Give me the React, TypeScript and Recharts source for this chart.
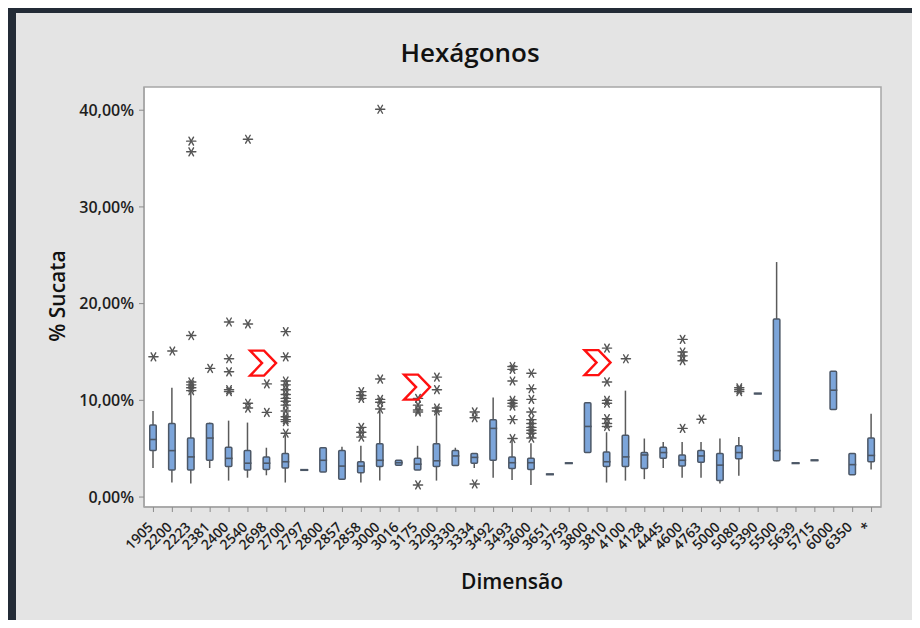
import React from 'react';
import {
  ComposedChart,
  Bar,
  Scatter,
  XAxis,
  YAxis,
  ReferenceArea,
  ReferenceDot,
  CartesianGrid,
} from 'recharts';

// ---------- data ----------
const categories = [
  '1905', '2200', '2223', '2381', '2400', '2540', '2698', '2700', '2797', '2800',
  '2857', '2858', '3000', '3016', '3175', '3200', '3330', '3334', '3492', '3493',
  '3600', '3651', '3759', '3800', '3810', '4100', '4128', '4445', '4600', '4763',
  '5000', '5080', '5390', '5500', '5639', '5715', '6000', '6350', '*',
];

const q1 = [
  4.8, 2.8, 2.8, 3.8, 3.15, 2.8, 2.85, 3.0, 2.8, 2.6,
  1.85, 2.5, 3.15, 3.3, 2.8, 3.15, 3.25, 3.5, 3.8, 2.95,
  2.85, 2.35, 3.5, 4.6, 3.15, 3.15, 2.95, 4.0, 3.2, 3.6,
  1.7, 3.95, 10.7, 3.75, 3.5, 3.8, 9.05, 2.3, 3.65,
];
const median = [
  5.95, 4.8, 4.15, 6.1, 4.0, 3.5, 3.5, 3.65, 2.8, 3.8,
  3.2, 3.2, 3.8, 3.55, 3.4, 3.75, 4.25, 4.1, 7.1, 3.55,
  3.55, 2.35, 3.5, 7.3, 3.65, 4.15, 4.35, 4.6, 3.8, 4.25,
  3.3, 4.6, 10.7, 4.8, 3.5, 3.8, 11.05, 3.35, 4.3,
];
const q3 = [
  7.45, 7.6, 6.1, 7.6, 5.15, 4.8, 4.15, 4.5, 2.8, 5.1,
  4.8, 3.65, 5.5, 3.8, 4.0, 5.5, 4.8, 4.5, 8.0, 4.15,
  4.0, 2.35, 3.5, 9.75, 4.65, 6.4, 4.6, 5.15, 4.35, 4.8,
  4.5, 5.3, 10.7, 18.4, 3.5, 3.8, 13.0, 4.5, 6.1,
];
const whiskerLow = [
  3.0, 1.5, 1.4, 3.0, 1.7, 2.0, 2.25, 1.5, 2.8, 2.6,
  1.85, 1.5, 1.7, 3.3, 2.8, 1.7, 3.25, 3.0, 2.0, 1.75,
  1.25, 2.35, 3.5, 4.6, 1.5, 1.7, 1.85, 3.0, 2.0, 2.0,
  1.4, 2.2, 10.7, 3.7, 3.5, 3.8, 9.05, 2.3, 2.85,
];
const whiskerHigh = [
  8.9, 11.3, 10.9, 7.7, 7.9, 7.7, 5.1, 6.4, 2.8, 5.1,
  5.2, 5.3, 9.0, 3.8, 5.3, 9.0, 5.1, 4.5, 10.3, 5.95,
  5.55, 2.35, 3.5, 9.75, 6.7, 11.0, 6.05, 5.7, 5.7, 5.7,
  6.05, 6.2, 10.7, 24.3, 3.5, 3.8, 13.0, 4.5, 8.6,
];
const outliers: number[][] = [
  [14.5],
  [15.1],
  [36.8, 35.7, 16.7, 11.9, 11.6, 11.3, 11.0],
  [13.3],
  [18.1, 14.3, 12.95, 11.1, 10.9],
  [37.0, 17.9, 9.7, 9.2],
  [11.7, 8.75],
  [17.1, 14.5, 12.0, 11.6, 11.1, 10.6, 10.2, 9.9, 9.5, 8.9, 8.3, 8.0, 7.8, 6.6],
  [],
  [],
  [],
  [10.9, 10.5, 10.2, 7.2, 6.7, 6.2],
  [40.1, 12.2, 10.1, 9.8, 9.1],
  [],
  [10.2, 9.5, 9.0, 8.8, 1.25],
  [12.4, 11.1, 9.2, 8.9],
  [],
  [8.8, 8.2, 1.35],
  [],
  [13.5, 13.2, 12.0, 10.0, 9.7, 9.4, 8.0, 6.05],
  [12.8, 11.2, 10.1, 8.8, 8.0, 7.6, 7.2, 6.9, 6.6, 6.1],
  [],
  [],
  [],
  [15.4, 11.9, 10.0, 9.7, 8.1, 7.6, 7.3],
  [14.3],
  [],
  [],
  [16.3, 15.0, 14.6, 14.1, 7.1],
  [8.05],
  [],
  [11.3, 11.1, 10.9],
  [],
  [],
  [],
  [],
  [],
  [],
  [],
];

// red chevron marks: position on the category index axis and value
const markX = [5.8, 13.95, 23.5];
const markY = [13.85, 11.37, 13.9];

const yTicks = [0, 10, 20, 30, 40];
const yDomain = [-1.03, 42.4];

// ---------- derived tables ----------
const data = categories.map((cat, i) => ({
  cat,
  i,
  box: [q1[i], q3[i]],
  whisker: [whiskerLow[i], whiskerHigh[i]],
}));
const medianPoints = categories.map((_, i) => ({ i, v: median[i] }));
const outlierPoints = outliers.flatMap((arr, i) => arr.map((v) => ({ i, v })));
const marks = markX.map((x, k) => ({ x, y: markY[k] }));

// ---------- styles ----------
const FONT = '"Open Sans", "Noto Sans", sans-serif';
const boxFill = '#7CA5DA';
const boxStroke = '#4C5766';
const whiskerColor = '#5A5A5A';
const outlierColor = '#555555';
const frameColor = '#A6A6A6';

const BoxShape = (p: any) => {
  const { x, y, width, height } = p;
  if (!(height > 1.2)) {
    const yy = y + (height || 0) / 2;
    return <line x1={x} x2={x + width} y1={yy} y2={yy} stroke={boxStroke} strokeWidth={2.2} />;
  }
  return (
    <rect
      x={x + 0.75}
      y={y}
      width={width - 1.5}
      height={height}
      fill={boxFill}
      stroke={boxStroke}
      strokeWidth={1.5}
      rx={1}
    />
  );
};

const WhiskerShape = (p: any) => {
  const { x, y, width, height } = p;
  if (!(height > 0)) return <g />;
  const cx = x + width / 2;
  return <line x1={cx} x2={cx} y1={y} y2={y + height} stroke={whiskerColor} strokeWidth={1.5} />;
};

const MedianShape = (p: any) => {
  const { cx, cy } = p;
  if (cx == null || cy == null || isNaN(cx) || isNaN(cy)) return <g />;
  return <line x1={cx - 3.6} x2={cx + 3.6} y1={cy} y2={cy} stroke={boxStroke} strokeWidth={1.6} />;
};

const AsteriskShape = (p: any) => {
  const { cx, cy } = p;
  if (cx == null || cy == null || isNaN(cx) || isNaN(cy)) return <g />;
  const r = 4.6;
  const dx = r * 0.5;
  const dy = r * 0.866;
  return (
    <g stroke={outlierColor} strokeWidth={1.4} strokeLinecap="round">
      <line x1={cx - r} x2={cx + r} y1={cy} y2={cy} />
      <line x1={cx - dx} x2={cx + dx} y1={cy - dy} y2={cy + dy} />
      <line x1={cx + dx} x2={cx - dx} y1={cy - dy} y2={cy + dy} />
    </g>
  );
};

const ChevronShape = (p: any) => {
  const { cx, cy } = p;
  if (cx == null || cy == null) return <g />;
  const pts = [
    [-13, -12.5],
    [1, -12.5],
    [13, 0],
    [1, 12.5],
    [-13, 12.5],
    [-1, 0],
  ]
    .map(([a, b]) => `${cx + a},${cy + b}`)
    .join(' ');
  return <polygon points={pts} fill="none" stroke="#FF1010" strokeWidth={2.4} strokeLinejoin="miter" />;
};

const XTick = (p: any) => {
  const { x, y, payload } = p;
  const ax = x + 0.5;
  const ay = y + 14;
  return (
    <text
      x={ax}
      y={ay}
      transform={`rotate(-45, ${ax}, ${ay})`}
      textAnchor="end"
      fontFamily={FONT}
      fontWeight={600}
      fontSize={14}
      fill="#1E1E1E"
    >
      {payload.value}
    </text>
  );
};

const fmtPct = (v: number) => v.toFixed(2).replace('.', ',') + '%';

export default function App() {
  return (
    <div style={{ position: 'relative', width: 920, height: 628, margin: -8, overflow: 'hidden', background: '#fff' }}>
      <div style={{ position: 'absolute', left: 8, top: 5, width: 912, height: 623, background: '#232B36' }} />
      <div style={{ position: 'absolute', left: 16, top: 13, width: 904, height: 610, background: '#E4E4E4' }} />
      <div style={{ position: 'absolute', left: 0, top: 0 }}>
        <ComposedChart
          width={920}
          height={628}
          data={data}
          margin={{ top: 87, right: 39, left: 74, bottom: 61 }}
        >
          <CartesianGrid horizontal={false} vertical={false} fill="#FFFFFF" />
          <XAxis
            dataKey="cat"
            type="category"
            interval={0}
            height={60}
            tick={<XTick />}
            tickSize={5}
            tickLine={{ stroke: '#8C8C8C' }}
            axisLine={{ stroke: frameColor, strokeWidth: 1.5 }}
          />
          <XAxis xAxisId="w" dataKey="cat" type="category" hide />
          <XAxis
            xAxisId="num"
            dataKey="i"
            type="number"
            domain={[-0.5, 38.5]}
            allowDataOverflow
            hide
          />
          <YAxis
            type="number"
            domain={yDomain}
            allowDataOverflow
            ticks={yTicks}
            tickFormatter={fmtPct}
            width={70}
            tickSize={5}
            tickMargin={5}
            tickLine={{ stroke: '#8C8C8C' }}
            axisLine={{ stroke: frameColor, strokeWidth: 1.5 }}
            tick={{ fontFamily: FONT, fontWeight: 600, fontSize: 16, fill: '#1E1E1E' }}
          />
          <ReferenceArea
            y1={yDomain[0]}
            y2={yDomain[1]}
            fill="none"
            stroke={frameColor}
            strokeWidth={1.5}
            ifOverflow="visible"
          />
          <Bar
            xAxisId="w"
            dataKey="whisker"
            barSize={8}
            shape={<WhiskerShape />}
            isAnimationActive={false}
          />
          <Bar
            dataKey="box"
            barSize={8}
            shape={<BoxShape />}
            isAnimationActive={false}
          />
          <Scatter
            xAxisId="num"
            data={medianPoints}
            dataKey="v"
            shape={<MedianShape />}
            isAnimationActive={false}
          />
          <Scatter
            xAxisId="num"
            data={outlierPoints}
            dataKey="v"
            shape={<AsteriskShape />}
            isAnimationActive={false}
          />
          {marks.map((m, k) => (
            <ReferenceDot
              key={k}
              xAxisId="num"
              x={m.x}
              y={m.y}
              shape={<ChevronShape />}
              ifOverflow="visible"
            />
          ))}
        </ComposedChart>
      </div>
      <svg
        width={920}
        height={628}
        style={{ position: 'absolute', left: 0, top: 0, pointerEvents: 'none' }}
      >
        <text x={470} y={62} textAnchor="middle" fontFamily={FONT} fontWeight={600} fontSize={26} fill="#111">
          Hexágonos
        </text>
        <text
          x={65}
          y={296}
          transform="rotate(-90, 65, 296)"
          textAnchor="middle"
          fontFamily={FONT}
          fontWeight={600}
          fontSize={21}
          fill="#111"
        >
          % Sucata
        </text>
        <text x={512} y={589} textAnchor="middle" fontFamily={FONT} fontWeight={600} fontSize={21} fill="#111">
          Dimensão
        </text>
      </svg>
    </div>
  );
}
